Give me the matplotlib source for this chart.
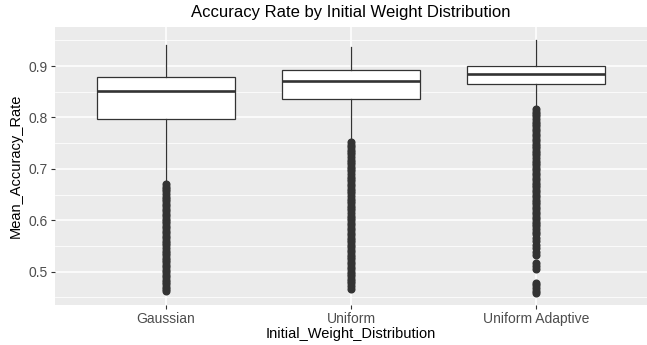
import matplotlib
matplotlib.use("Agg")
import matplotlib.pyplot as plt
from matplotlib.ticker import MultipleLocator

plt.rcParams['font.family'] = ['Liberation Sans', 'DejaVu Sans']

categories = ["Gaussian", "Uniform", "Uniform Adaptive"]
q1 = [0.797, 0.835, 0.866]
median = [0.851, 0.870, 0.884]
q3 = [0.879, 0.892, 0.900]
whisker_low = [0.675, 0.757, 0.820]
whisker_high = [0.941, 0.937, 0.951]

outliers_gaussian = [0.670, 0.665, 0.661, 0.656, 0.651, 0.646, 0.641, 0.637, 0.632, 0.627,
                     0.622, 0.618, 0.613, 0.608, 0.603, 0.598, 0.594, 0.589, 0.584, 0.579,
                     0.575, 0.570, 0.565, 0.560, 0.556, 0.551, 0.546, 0.541, 0.537, 0.532,
                     0.527, 0.522, 0.518, 0.513, 0.508, 0.503, 0.499, 0.494, 0.489, 0.484,
                     0.480, 0.475, 0.471, 0.466, 0.462]
outliers_uniform = [0.752, 0.747, 0.742, 0.737, 0.733, 0.728, 0.723, 0.718, 0.714, 0.709,
                    0.704, 0.699, 0.695, 0.690, 0.685, 0.680, 0.676, 0.671, 0.666, 0.661,
                    0.657, 0.652, 0.647, 0.642, 0.638, 0.633, 0.628, 0.623, 0.619, 0.614,
                    0.609, 0.604, 0.600, 0.595, 0.590, 0.585, 0.581, 0.576, 0.571, 0.566,
                    0.562, 0.557, 0.552, 0.547, 0.543, 0.538, 0.533, 0.528, 0.524, 0.519,
                    0.514, 0.509, 0.505, 0.500, 0.495, 0.491, 0.486, 0.482, 0.477, 0.472,
                    0.467]
outliers_adaptive = [0.816, 0.811, 0.806, 0.802, 0.797, 0.792, 0.787, 0.783, 0.778, 0.773,
                     0.768, 0.764, 0.759, 0.754, 0.749, 0.745, 0.740, 0.735, 0.730, 0.726,
                     0.721, 0.716, 0.711, 0.707, 0.702, 0.697, 0.692, 0.688, 0.683, 0.678,
                     0.673, 0.669, 0.664, 0.659, 0.654, 0.650, 0.645, 0.640, 0.635, 0.631,
                     0.626, 0.621, 0.616, 0.612, 0.607, 0.602, 0.597, 0.593, 0.588, 0.583,
                     0.578, 0.574, 0.566, 0.559, 0.552, 0.545, 0.538, 0.533, 0.516, 0.510,
                     0.505, 0.478, 0.473, 0.468, 0.463, 0.459]
outliers = [outliers_gaussian, outliers_uniform, outliers_adaptive]

title = "Accuracy Rate by Initial Weight Distribution"
xlabel = "Initial_Weight_Distribution"
ylabel = "Mean_Accuracy_Rate"
yticks = [0.5, 0.6, 0.7, 0.8, 0.9]

stats = []
for i, c in enumerate(categories):
    stats.append(dict(label=c, q1=q1[i], med=median[i], q3=q3[i],
                      whislo=whisker_low[i], whishi=whisker_high[i], fliers=outliers[i]))

fig = plt.figure(figsize=(6.47, 3.45), dpi=100)
ax = fig.add_axes([55/647, 40/345, 592/647, 278/345])
ax.set_facecolor("#EBEBEB")
dark = "#333333"
positions = list(range(1, len(categories) + 1))
ax.bxp(stats, positions=positions, widths=0.75, showcaps=False, patch_artist=True,
       boxprops=dict(facecolor="white", edgecolor=dark, linewidth=0.9),
       medianprops=dict(color=dark, linewidth=1.9),
       whiskerprops=dict(color=dark, linewidth=0.9),
       flierprops=dict(marker="o", markersize=4.8, markerfacecolor=dark,
                       markeredgecolor=dark, linestyle="none"),
       zorder=3)

ax.set_xlim(0.4, 3.6)
ax.set_ylim(0.435, 0.976)
ax.set_yticks(yticks)
ax.set_yticklabels([f"{v:.1f}" for v in yticks])
ax.yaxis.set_minor_locator(MultipleLocator(0.05))
ax.set_xticks(positions)
ax.set_xticklabels(categories)

ax.grid(True, which="major", color="white", linewidth=1.1, zorder=0)
ax.grid(True, which="minor", axis="y", color="white", linewidth=0.55, zorder=0)
ax.set_axisbelow(True)
for s in ax.spines.values():
    s.set_visible(False)
ax.tick_params(axis="both", which="major", length=3, width=0.8, color=dark,
               labelcolor="#4D4D4D", labelsize=10, pad=2)
ax.tick_params(axis="y", which="minor", length=0)

ax.set_title(title, fontsize=12, color="black", pad=7)
ax.set_xlabel(xlabel, fontsize=10.5, color="black", labelpad=1)
ax.set_ylabel(ylabel, fontsize=10.5, color="black", labelpad=4)

fig.savefig("out.png", dpi=100)
